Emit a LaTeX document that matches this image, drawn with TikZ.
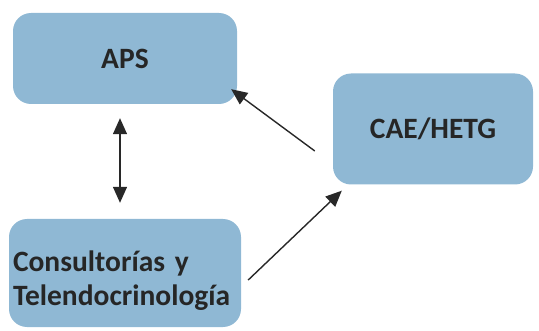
\documentclass[tikz,border=0pt]{standalone}
\usepackage{fontspec}
\setmainfont{Carlito}
\usetikzlibrary{arrows.meta}
\definecolor{boxblue}{RGB}{143,184,212}
\definecolor{arrowgray}{RGB}{40,40,40}
\tikzset{
  box/.style={fill=boxblue,rounded corners=18pt,inner sep=0pt,
    font=\fontsize{29.5}{34}\selectfont\bfseries,text=black!85},
  link/.style={draw=arrowgray,line width=1.4pt,
    >={Triangle[length=16pt,width=14pt]}}
}
\begin{document}
\begin{tikzpicture}[x=1pt,y=1pt]
  \useasboundingbox (0,0) rectangle (539,330);

  \node[box,minimum width=224pt,minimum height=91pt] (aps) at (125,271.5) {APS};
  \node[box,minimum width=200pt,minimum height=111pt] (cae) at (433,201) {CAE/HETG};
  \node[box,minimum width=232pt,minimum height=108pt,text width=224pt,
    align=left,inner xsep=4pt] (cons) at (125,57)
    {\rule{0pt}{36pt}Consultorías y\\Telendocrinología};

  \draw[link,<->,shorten <=14pt,shorten >=16pt] ([xshift=-5pt]aps.south) -- ([xshift=-5pt]cons.north);
  \draw[link,->] ([shift={(-18pt,-22pt)}]cae.west) -- ([shift={(-6pt,15pt)}]aps.south east);
  \draw[link,->] ([shift={(7pt,-7pt)}]cons.east) -- ([shift={(9pt,-6pt)}]cae.south west);
\end{tikzpicture}
\end{document}
